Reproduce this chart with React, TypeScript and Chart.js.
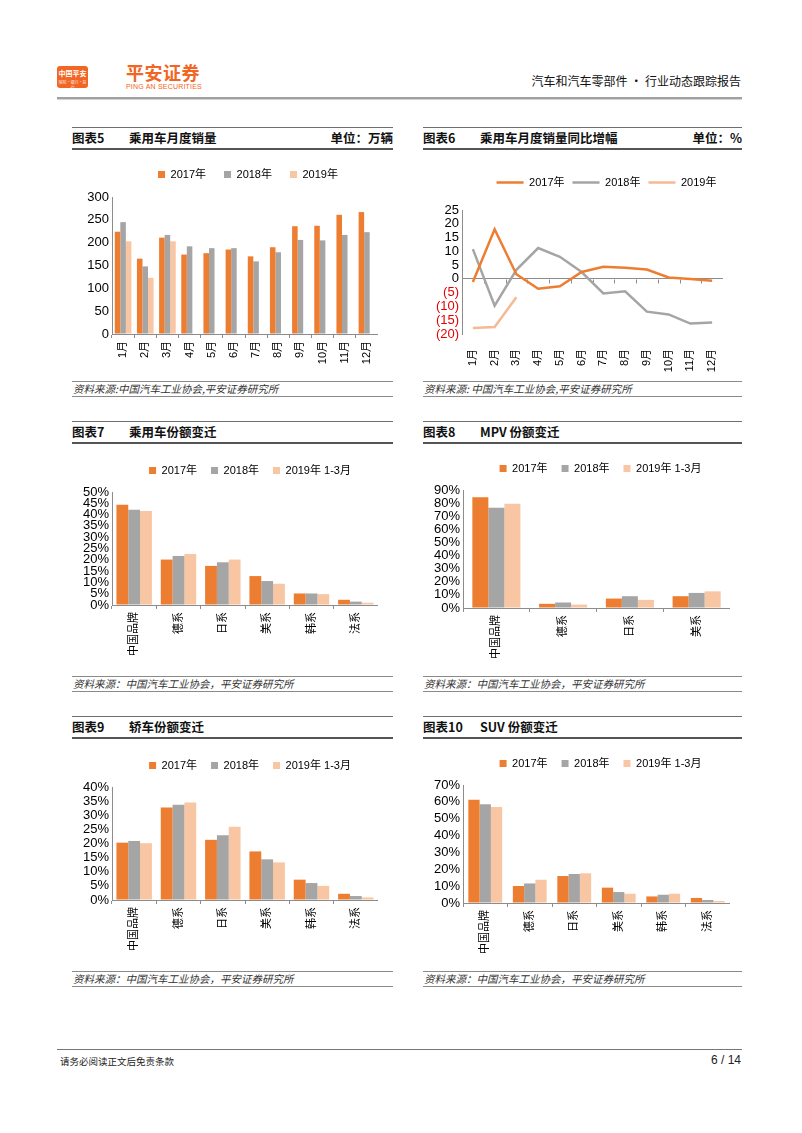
import React, { useEffect, useRef } from 'react';
import { Chart, registerables } from 'chart.js';

Chart.register(...registerables);

const FONT = '"Liberation Sans", "Noto Sans CJK SC", Arial, sans-serif';
const CJK = '"Noto Sans CJK SC", "Liberation Sans", sans-serif';
const ORANGE = '#ED7D31';
const GRAY = '#A5A5A5';
const LIGHT = '#F8C6A2';
const AXIS = '#8C8C8C';
const BRAND_ORANGE = '#F26522';

Chart.defaults.font.family = FONT;
Chart.defaults.color = '#000';

// ---------- data ----------
const months = ['1月', '2月', '3月', '4月', '5月', '6月', '7月', '8月', '9月', '10月', '11月', '12月'];
const sales2017 = [224, 165, 211, 174, 177, 185, 170, 190, 236, 237, 261, 267];
const sales2018 = [245, 148, 217, 192, 188, 188, 159, 179, 206, 205, 217, 223];
const sales2019 = [203, 123, 203];

const yoy2017 = [-1.1, 18.0, 1.7, -3.6, -2.7, 2.5, 4.4, 4.0, 3.4, 0.5, 0.0, -0.7];
const yoy2018 = [10.8, -9.7, 3.3, 11.2, 8.0, 2.5, -5.3, -4.5, -11.9, -12.9, -16.2, -15.8];
const yoy2019 = [-17.8, -17.5, -6.7];

const brands = ['中国品牌', '德系', '日系', '美系', '韩系', '法系'];
const mpvBrands = ['中国品牌', '德系', '日系', '美系'];

const pv2017 = [44.4, 20.1, 17.3, 12.8, 5.1, 2.3];
const pv2018 = [42.2, 21.7, 18.9, 10.6, 5.1, 1.5];
const pv2019 = [41.6, 22.6, 20.1, 9.4, 4.8, 1.0];

const mpv2017 = [84.5, 3.2, 7.2, 9.0];
const mpv2018 = [76.5, 4.2, 9.0, 11.5];
const mpv2019 = [79.5, 2.6, 6.2, 12.7];

const sedan2017 = [20.3, 32.7, 21.3, 17.2, 7.2, 2.2];
const sedan2018 = [20.9, 33.7, 22.9, 14.4, 6.0, 1.4];
const sedan2019 = [20.1, 34.5, 25.9, 13.3, 5.0, 0.9];

const suv2017 = [61.3, 10.1, 16.0, 9.1, 3.9, 3.0];
const suv2018 = [58.6, 11.6, 17.2, 6.5, 4.9, 1.8];
const suv2019 = [57.0, 13.8, 17.6, 5.5, 5.5, 1.2];

const yearLabels = ['2017年', '2018年', '2019年'];
const shareLabels = ['2017年', '2018年', '2019年 1-3月'];

// ---------- helpers ----------
function legendGap(extra: number, dx: number) {
  return {
    id: 'legendGap',
    beforeInit(chart: any) {
      const legend = chart.legend;
      if (!legend) return;
      const origFit = legend.fit;
      legend.fit = function () {
        origFit.call(this);
        this.height += extra;
      };
      const origDraw = legend.draw;
      legend.draw = function () {
        const ctx = this.ctx;
        ctx.save();
        ctx.translate(dx, 0);
        origDraw.call(this);
        ctx.restore();
      };
    },
  };
}

const zeroTicks = {
  id: 'zeroTicks',
  beforeDatasetsDraw(chart: any) {
    const { ctx } = chart;
    const x = chart.scales.x;
    const y = chart.scales.y;
    const y0 = Math.round(y.getPixelForValue(0)) + 0.5;
    const n = x.ticks.length;
    ctx.save();
    ctx.strokeStyle = AXIS;
    ctx.lineWidth = 1;
    ctx.beginPath();
    for (let i = 1; i <= n; i++) {
      const px = i < n ? (x.getPixelForValue(i - 1) + x.getPixelForValue(i)) / 2 : x.right;
      const sx = Math.round(px) + 0.5;
      ctx.moveTo(sx, y0);
      ctx.lineTo(sx, y0 + 4);
    }
    ctx.stroke();
    ctx.restore();
  },
};

type Geo = {
  plotLeft: number;
  plotRight: number;
  plotTop: number;
  plotBottom: number;
  legendY: number;
  bottom: number;
  yAxisWidth: number;
  legendPadding: number;
  legendDx: number;
};

function frame(g: Geo) {
  const cx = g.plotLeft - g.yAxisWidth;
  const cw = g.plotRight - cx;
  const cy = Math.round(g.legendY - g.legendPadding - 5.5);
  const ch = g.bottom - cy;
  const extra = g.plotTop - cy - 21 - g.legendPadding;
  const xh = g.bottom - g.plotBottom;
  return { cx, cw, cy, ch, extra, xh };
}

type Series = { label: string; data: number[]; color: string };

const TICK_FONT = { family: FONT, size: 13 };
const CAT_FONT = { family: FONT, size: 11 };
const LEGEND_FONT = { family: FONT, size: 11 };

function fixX(xh: number) {
  return (s: any) => {
    s.height = xh;
    s.paddingLeft = 0;
    s.paddingRight = 0;
  };
}

function BarChart(props: {
  geo: Geo;
  labels: string[];
  series: Series[];
  yMax: number;
  yStep: number;
  percent: boolean;
  catPct: number;
}) {
  const ref = useRef<HTMLCanvasElement>(null);
  const f = frame(props.geo);
  useEffect(() => {
    const chart = new Chart(ref.current as HTMLCanvasElement, {
      type: 'bar',
      data: {
        labels: props.labels,
        datasets: props.series.map((s) => ({
          label: s.label,
          data: s.data,
          backgroundColor: s.color,
          borderWidth: 0,
          categoryPercentage: props.catPct,
          barPercentage: 1,
        })),
      },
      options: {
        responsive: false,
        animation: false,
        devicePixelRatio: 1,
        layout: { padding: 0 },
        plugins: {
          legend: {
            display: true,
            position: 'top',
            fullSize: false,
            labels: {
              boxWidth: 7,
              boxHeight: 7,
              padding: props.geo.legendPadding,
              color: '#000',
              font: LEGEND_FONT,
            },
          },
          tooltip: { enabled: false },
        },
        scales: {
          x: {
            grid: { offset: true, drawOnChartArea: false, drawTicks: true, tickLength: 4, color: AXIS },
            border: { display: true, color: AXIS, width: 1 },
            ticks: { autoSkip: false, minRotation: 90, maxRotation: 90, padding: 3, color: '#000', font: CAT_FONT },
            afterFit: fixX(f.xh),
          },
          y: {
            min: 0,
            max: props.yMax,
            grid: { drawOnChartArea: false, drawTicks: false },
            border: { display: true, color: AXIS, width: 1 },
            ticks: {
              stepSize: props.yStep,
              autoSkip: false,
              padding: 3,
              color: '#000',
              font: TICK_FONT,
              callback: (v: any) => (props.percent ? `${v}%` : `${v}`),
            },
            afterFit: (s: any) => {
              s.width = props.geo.yAxisWidth;
            },
          },
        },
      } as any,
      plugins: [legendGap(f.extra, props.geo.legendDx)],
    });
    return () => chart.destroy();
  }, []);
  return (
    <canvas
      ref={ref}
      width={f.cw}
      height={f.ch}
      style={{ position: 'absolute', left: f.cx, top: f.cy, width: f.cw, height: f.ch }}
    />
  );
}

function LineChart(props: { geo: Geo }) {
  const ref = useRef<HTMLCanvasElement>(null);
  const f = frame(props.geo);
  useEffect(() => {
    const mk = (label: string, data: number[], color: string) => ({
      label,
      data,
      borderColor: color,
      backgroundColor: color,
      borderWidth: 2.5,
      pointRadius: 0,
      tension: 0,
      fill: false,
    });
    const chart = new Chart(ref.current as HTMLCanvasElement, {
      type: 'line',
      data: {
        labels: months,
        datasets: [
          mk(yearLabels[0], yoy2017, ORANGE),
          mk(yearLabels[1], yoy2018, GRAY),
          mk(yearLabels[2], yoy2019, '#F5B994'),
        ],
      },
      options: {
        responsive: false,
        animation: false,
        devicePixelRatio: 1,
        layout: { padding: 0 },
        plugins: {
          legend: {
            display: true,
            position: 'top',
            fullSize: false,
            labels: {
              usePointStyle: true,
              pointStyle: 'line',
              pointStyleWidth: 27,
              padding: props.geo.legendPadding,
              color: '#000',
              font: LEGEND_FONT,
            },
          },
          tooltip: { enabled: false },
        },
        scales: {
          x: {
            offset: true,
            grid: { display: false },
            border: { display: false },
            ticks: { autoSkip: false, minRotation: 90, maxRotation: 90, padding: 7, color: '#000', font: CAT_FONT },
            afterFit: fixX(f.xh),
          },
          y: {
            min: -20,
            max: 25,
            grid: {
              drawTicks: false,
              color: (c: any) => (c.tick && c.tick.value === 0 ? AXIS : 'rgba(0,0,0,0)'),
            },
            border: { display: true, color: AXIS, width: 1 },
            ticks: {
              stepSize: 5,
              autoSkip: false,
              padding: 3,
              font: TICK_FONT,
              color: (c: any) => (c.tick && c.tick.value < 0 ? '#E60000' : '#000'),
              callback: (v: any) => (v < 0 ? `(${Math.abs(v)})` : `${v}`),
            },
            afterFit: (s: any) => {
              s.width = props.geo.yAxisWidth;
            },
          },
        },
      } as any,
      plugins: [legendGap(f.extra, props.geo.legendDx), zeroTicks],
    });
    return () => chart.destroy();
  }, []);
  return (
    <canvas
      ref={ref}
      width={f.cw}
      height={f.ch}
      style={{ position: 'absolute', left: f.cx, top: f.cy, width: f.cw, height: f.ch }}
    />
  );
}

function Panel(props: {
  x0: number;
  x1: number;
  top: number;
  num: string;
  title: string;
  unit?: string;
  sourceTop: number;
  source: string;
}) {
  const { x0, x1, top, sourceTop } = props;
  const w = x1 - x0;
  const titleStyle: React.CSSProperties = {
    position: 'absolute',
    top: top + 2,
    fontFamily: CJK,
    fontWeight: 700,
    fontSize: 12.5,
    lineHeight: '18px',
    color: '#111',
    whiteSpace: 'nowrap',
  };
  return (
    <>
      <div style={{ position: 'absolute', left: x0, top, width: w, height: 1, background: '#6e6e6e' }} />
      <div style={{ ...titleStyle, left: x0 }}>{'图表' + props.num}</div>
      <div style={{ ...titleStyle, left: x0 + 57 }}>{props.title}</div>
      {props.unit ? <div style={{ ...titleStyle, right: 802 - x1 }}>{props.unit}</div> : null}
      <div style={{ position: 'absolute', left: x0, top: top + 21, width: w, height: 2, background: '#555' }} />
      <div style={{ position: 'absolute', left: x0, top: sourceTop, width: w, height: 1, background: '#8a8a8a' }} />
      <div
        style={{
          position: 'absolute',
          left: x0 + 1,
          top: sourceTop + 1,
          fontFamily: CJK,
          fontStyle: 'italic',
          fontSize: 10.5,
          lineHeight: '14px',
          color: '#333',
          whiteSpace: 'nowrap',
        }}
      >
        {props.source}
      </div>
      <div style={{ position: 'absolute', left: x0, top: sourceTop + 15, width: w, height: 1, background: '#8a8a8a' }} />
    </>
  );
}

const L0 = 72;
const L1 = 393;
const R0 = 423;
const R1 = 742;

export default function App() {
  const src1 = '资料来源:中国汽车工业协会,平安证券研究所';
  const src2 = '资料来源: 中国汽车工业协会,平安证券研究所';
  const src3 = '资料来源：中国汽车工业协会，平安证券研究所';
  return (
    <div
      style={{
        position: 'absolute',
        left: 0,
        top: 0,
        width: 802,
        height: 1133,
        background: '#fff',
        overflow: 'hidden',
        fontFamily: CJK,
      }}
    >
      {/* header */}
      <div
        style={{
          position: 'absolute',
          left: 57,
          top: 66,
          width: 31,
          height: 22,
          borderRadius: 3,
          background: BRAND_ORANGE,
          color: '#fff',
          textAlign: 'center',
        }}
      >
        <div style={{ fontSize: 7, fontWeight: 700, lineHeight: '12px', marginTop: 1 }}>中国平安</div>
        <div style={{ fontSize: 4, lineHeight: '6px', opacity: 0.9 }}>保险·银行·投资</div>
      </div>
      <div
        style={{
          position: 'absolute',
          left: 126,
          top: 61,
          fontFamily: CJK,
          fontWeight: 700,
          fontSize: 18,
          lineHeight: '22px',
          color: BRAND_ORANGE,
          letterSpacing: 0.5,
        }}
      >
        平安证券
      </div>
      <div
        style={{
          position: 'absolute',
          left: 126,
          top: 82,
          fontFamily: FONT,
          fontSize: 7,
          lineHeight: '9px',
          color: BRAND_ORANGE,
          letterSpacing: 0.2,
        }}
      >
        PING AN SECURITIES
      </div>
      <div
        style={{
          position: 'absolute',
          right: 802 - 741,
          top: 73,
          fontFamily: CJK,
          fontSize: 12,
          lineHeight: '16px',
          color: '#111',
          whiteSpace: 'nowrap',
        }}
      >
        汽车和汽车零部件 · 行业动态跟踪报告
      </div>
      <div
        style={{
          position: 'absolute',
          left: 57,
          top: 97,
          width: 685,
          height: 2,
          background: '#a0a0a0',
          boxShadow: '0 1px 1px #d0d0d0',
        }}
      />

      {/* row 1 */}
      <Panel x0={L0} x1={L1} top={127} num="5" title="乘用车月度销量" unit="单位：万辆" sourceTop={381} source={src1} />
      <Panel x0={R0} x1={R1} top={127} num="6" title="乘用车月度销量同比增幅" unit="单位：%" sourceTop={381} source={src2} />
      <BarChart
        geo={{ plotLeft: 112, plotRight: 378, plotTop: 197, plotBottom: 334, legendY: 174, bottom: 378, yAxisWidth: 50, legendPadding: 18, legendDx: 3 }}
        labels={months}
        series={[
          { label: yearLabels[0], data: sales2017, color: ORANGE },
          { label: yearLabels[1], data: sales2018, color: GRAY },
          { label: yearLabels[2], data: sales2019, color: LIGHT },
        ]}
        yMax={300}
        yStep={50}
        percent={false}
        catPct={0.75}
      />
      <LineChart
        geo={{ plotLeft: 462, plotRight: 723, plotTop: 210, plotBottom: 334, legendY: 182, bottom: 378, yAxisWidth: 50, legendPadding: 8, legendDx: 14 }}
      />

      {/* row 2 */}
      <Panel x0={L0} x1={L1} top={421} num="7" title="乘用车份额变迁" sourceTop={676} source={src3} />
      <Panel x0={R0} x1={R1} top={421} num="8" title="MPV 份额变迁" sourceTop={676} source={src3} />
      <BarChart
        geo={{ plotLeft: 112, plotRight: 378, plotTop: 492, plotBottom: 605, legendY: 470, bottom: 673, yAxisWidth: 50, legendPadding: 14, legendDx: 5 }}
        labels={brands}
        series={[
          { label: shareLabels[0], data: pv2017, color: ORANGE },
          { label: shareLabels[1], data: pv2018, color: GRAY },
          { label: shareLabels[2], data: pv2019, color: LIGHT },
        ]}
        yMax={50}
        yStep={5}
        percent={true}
        catPct={0.8}
      />
      <BarChart
        geo={{ plotLeft: 463, plotRight: 730, plotTop: 490, plotBottom: 608, legendY: 468, bottom: 673, yAxisWidth: 50, legendPadding: 14, legendDx: 4 }}
        labels={mpvBrands}
        series={[
          { label: shareLabels[0], data: mpv2017, color: ORANGE },
          { label: shareLabels[1], data: mpv2018, color: GRAY },
          { label: shareLabels[2], data: mpv2019, color: LIGHT },
        ]}
        yMax={90}
        yStep={10}
        percent={true}
        catPct={0.72}
      />

      {/* row 3 */}
      <Panel x0={L0} x1={L1} top={716} num="9" title="轿车份额变迁" sourceTop={971} source={src3} />
      <Panel x0={R0} x1={R1} top={716} num="10" title="SUV 份额变迁" sourceTop={971} source={src3} />
      <BarChart
        geo={{ plotLeft: 112, plotRight: 378, plotTop: 787, plotBottom: 900, legendY: 765, bottom: 968, yAxisWidth: 50, legendPadding: 14, legendDx: 5 }}
        labels={brands}
        series={[
          { label: shareLabels[0], data: sedan2017, color: ORANGE },
          { label: shareLabels[1], data: sedan2018, color: GRAY },
          { label: shareLabels[2], data: sedan2019, color: LIGHT },
        ]}
        yMax={40}
        yStep={5}
        percent={true}
        catPct={0.8}
      />
      <BarChart
        geo={{ plotLeft: 463, plotRight: 730, plotTop: 785, plotBottom: 903, legendY: 763, bottom: 968, yAxisWidth: 50, legendPadding: 14, legendDx: 4 }}
        labels={brands}
        series={[
          { label: shareLabels[0], data: suv2017, color: ORANGE },
          { label: shareLabels[1], data: suv2018, color: GRAY },
          { label: shareLabels[2], data: suv2019, color: LIGHT },
        ]}
        yMax={70}
        yStep={10}
        percent={true}
        catPct={0.76}
      />

      {/* footer */}
      <div style={{ position: 'absolute', left: 57, top: 1049, width: 685, height: 1, background: '#777' }} />
      <div
        style={{
          position: 'absolute',
          left: 60,
          top: 1055,
          fontFamily: CJK,
          fontSize: 9.5,
          lineHeight: '13px',
          color: '#222',
          whiteSpace: 'nowrap',
        }}
      >
        请务必阅读正文后免责条款
      </div>
      <div
        style={{
          position: 'absolute',
          right: 802 - 741,
          top: 1053,
          fontFamily: FONT,
          fontSize: 12,
          lineHeight: '15px',
          color: '#222',
          whiteSpace: 'nowrap',
        }}
      >
        6 / 14
      </div>
    </div>
  );
}
